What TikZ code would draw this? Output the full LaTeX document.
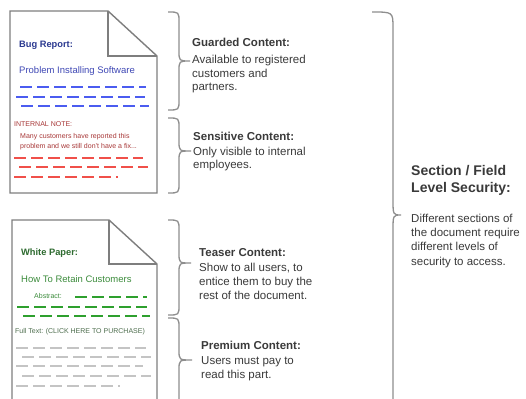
\documentclass[tikz,border=0pt]{standalone}
\usepackage{fontspec}
\setmainfont{Liberation Sans}
\definecolor{docgray}{HTML}{7E7E7E}
\definecolor{bracegray}{HTML}{8E8E8E}
\definecolor{tgray}{HTML}{3A3A3A}
\definecolor{bluehead}{HTML}{2B3990}
\definecolor{bluetext}{HTML}{3F48B5}
\definecolor{bluedash}{HTML}{4B5CF0}
\definecolor{redtext}{HTML}{A83838}
\definecolor{reddash}{HTML}{F0504A}
\definecolor{greenhead}{HTML}{2E6B30}
\definecolor{greentext}{HTML}{3C8C3C}
\definecolor{greendash}{HTML}{2EA02E}
\definecolor{fulltext}{HTML}{4E6E4E}
\definecolor{graydash}{HTML}{C4C4C4}
\newcommand\mybrace[7]{%
  \draw[brc] (#1,#4) .. controls (#2,#4) .. (#2,#4+#7) -- (#2,#5-#7)
    .. controls (#2,#5) .. (#3,#5) .. controls (#2,#5) .. (#2,#5+#7)
    -- (#2,#6-#7) .. controls (#2,#6) .. (#1,#6);}
\begin{document}
\begin{tikzpicture}[x=1pt,y=-1pt,
  docline/.style={draw=docgray, line width=1.4pt, line join=miter},
  brc/.style={draw=bracegray, line width=1.3pt},
  t/.style={inner sep=0pt, anchor=mid west},
  desc/.style={t, font=\fontsize{11.5}{14}\selectfont, text=tgray},
  head/.style={t, font=\fontsize{11.5}{14}\selectfont\bfseries, text=tgray},
  bighead/.style={t, font=\fontsize{14}{17}\selectfont\bfseries, text=tgray},
  small/.style={t, font=\fontsize{7}{8.5}\selectfont},
  dochead/.style={t, font=\fontsize{9.3}{11}\selectfont\bfseries},
  doctitle/.style={t, font=\fontsize{9.5}{11}\selectfont},
  bdash/.style={draw=bluedash, line width=2pt, dash pattern=on 12pt off 5pt},
  rdash/.style={draw=reddash, line width=2pt, dash pattern=on 12pt off 5pt},
  gdash/.style={draw=greendash, line width=2pt, dash pattern=on 12pt off 5pt},
  ydash/.style={draw=graydash, line width=1.5pt, dash pattern=on 12pt off 5pt}]
\useasboundingbox (0,0) rectangle (526,398);
\clip (0,0) rectangle (526,398);
\fill[white] (0,0) rectangle (526,398);

% document 1
\draw[docline] (10,11) -- (108,11) -- (157,56) -- (157,193) -- (10,193) -- cycle;
\draw[docline] (108,11) -- (108,56) -- (157,56);
\node[dochead, text=bluehead] (bug) at (19,45) {Bug Report:};
\node[doctitle, text=bluetext] (prob) at (19,71) {Problem Installing Software};
\draw[bdash] (20,87) -- (146,87);
\draw[bdash] (16,97) -- (145,97);
\draw[bdash] (21,106) -- (149,106);
\node[small, text=redtext] (note) at (14,124) {INTERNAL NOTE:};
\node[small, text=redtext] (note1) at (20,136) {Many customers have reported this};
\node[small, text=redtext] (note2) at (20,146) {problem and we still don't have a fix...};
\draw[rdash] (14,158) -- (143,158);
\draw[rdash] (19,167) -- (148,167);
\draw[rdash] (14,177) -- (118,177);

% document 2
\draw[docline] (12,410) -- (12,220) -- (109,220) -- (157,264) -- (157,410);
\draw[docline] (109,220) -- (109,264) -- (157,264);
\node[dochead, text=greenhead] (wp) at (21,253) {White Paper:};
\node[doctitle, text=greentext] (how) at (21,280) {How To Retain Customers};
\node[small, text=greentext] (abs) at (34,296) {Abstract:};
\draw[gdash] (75,297) -- (147,297);
\draw[gdash] (17,307) -- (147,307);
\draw[gdash] (23,316) -- (150,316);
\node[small, text=fulltext] (full) at (15,331) {Full Text: (CLICK HERE TO PURCHASE)};
\draw[ydash] (16,348) -- (146,348);
\draw[ydash] (22,357) -- (151,357);
\draw[ydash] (16,366) -- (143,366);
\draw[ydash] (22,376) -- (151,376);
\draw[ydash] (16,386) -- (120,386);

% braces
\mybrace{168}{179}{190}{12}{61}{110}{10}
\mybrace{168}{179}{191}{118}{151}{193}{10}
\mybrace{168}{179}{191}{220}{263}{315}{10}
\mybrace{168}{179}{192}{318}{360}{420}{10}
\mybrace{372}{393}{401}{12}{215}{420}{16}

% labels
\node[head] (g0) at (192,44) {Guarded Content:};
\node[desc] (g1) at (192,61) {Available to registered};
\node[desc] (g2) at (192,74.5) {customers and};
\node[desc] (g3) at (192,88) {partners.};
\node[head] (s0) at (193,137.5) {Sensitive Content:};
\node[desc] (s1) at (193,152.5) {Only visible to internal};
\node[desc] (s2) at (193,166) {employees.};
\node[head] (t0) at (199,254) {Teaser Content:};
\node[desc] (t1) at (199,268.5) {Show to all users, to};
\node[desc] (t2) at (199,283) {entice them to buy the};
\node[desc] (t3) at (199,297) {rest of the document.};
\node[head] (p0) at (201,347) {Premium Content:};
\node[desc] (p1) at (201,362) {Users must pay to};
\node[desc] (p2) at (201,376) {read this part.};
\node[bighead] (f0) at (411,173) {Section / Field};
\node[bighead] (f1) at (411,190) {Level Security:};
\node[desc] (f2) at (411,219.5) {Different sections of};
\node[desc] (f3) at (411,234) {the document require};
\node[desc] (f4) at (411,248) {different levels of};
\node[desc] (f5) at (411,262.5) {security to access.};
\end{tikzpicture}
\end{document}
